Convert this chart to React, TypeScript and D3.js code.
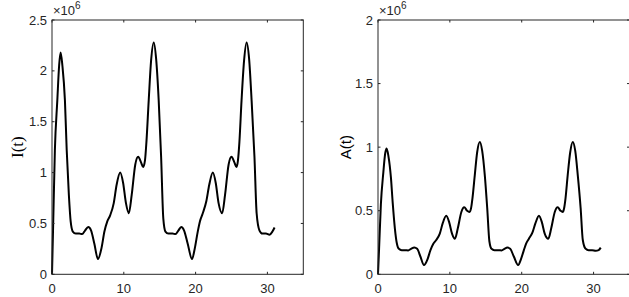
import React from "react";
import * as d3 from "d3";

const tI = [0, 0.15, 0.4, 0.74, 1.0, 1.2, 1.45, 1.8, 2.05, 2.35, 2.6, 2.9, 3.3, 3.8, 4.2, 4.6, 5.05, 5.45, 5.9, 6.4, 6.9, 7.3, 7.7, 8.1, 8.6, 9.0, 9.5, 9.9, 10.3, 10.7, 11.1, 11.6, 12.0, 12.4, 12.7, 12.95, 13.15, 13.47, 13.8, 14.17, 14.5, 14.86, 15.2, 15.5, 15.8, 16.2, 16.8, 17.2, 17.6, 18.0, 18.4, 18.9, 19.5, 19.9, 20.3, 20.6, 21.0, 21.5, 21.9, 22.4, 22.8, 23.2, 23.7, 24.1, 24.6, 25.0, 25.4, 25.7, 25.9, 26.1, 26.4, 26.75, 27.1, 27.45, 27.8, 28.2, 28.5, 28.9, 29.3, 29.8, 30.3, 30.7, 31.0];

const iValues = [0, 0.45, 1.22, 1.71, 2.06, 2.18, 2.05, 1.71, 1.22, 0.78, 0.52, 0.42, 0.40, 0.40, 0.395, 0.43, 0.465, 0.43, 0.30, 0.15, 0.26, 0.42, 0.52, 0.58, 0.70, 0.88, 1.0, 0.90, 0.70, 0.60, 0.78, 1.08, 1.155, 1.10, 1.055, 1.12, 1.30, 1.71, 2.10, 2.28, 2.12, 1.71, 1.15, 0.55, 0.42, 0.40, 0.40, 0.395, 0.43, 0.465, 0.43, 0.30, 0.15, 0.26, 0.42, 0.52, 0.60, 0.72, 0.88, 1.0, 0.90, 0.70, 0.60, 0.78, 1.08, 1.155, 1.10, 1.055, 1.12, 1.30, 1.71, 2.10, 2.28, 2.12, 1.71, 1.15, 0.60, 0.43, 0.40, 0.40, 0.39, 0.42, 0.46];

const aValues = [0, 0.2, 0.55, 0.8, 0.95, 0.99, 0.93, 0.76, 0.56, 0.36, 0.25, 0.2, 0.19, 0.19, 0.188, 0.2, 0.21, 0.2, 0.14, 0.073, 0.12, 0.19, 0.24, 0.27, 0.32, 0.40, 0.46, 0.41, 0.32, 0.28, 0.36, 0.49, 0.527, 0.5, 0.49, 0.52, 0.6, 0.78, 0.96, 1.04, 0.97, 0.78, 0.52, 0.26, 0.2, 0.19, 0.19, 0.188, 0.2, 0.21, 0.2, 0.14, 0.073, 0.12, 0.19, 0.24, 0.28, 0.33, 0.40, 0.46, 0.41, 0.32, 0.28, 0.36, 0.49, 0.527, 0.5, 0.49, 0.52, 0.6, 0.78, 0.96, 1.04, 0.97, 0.78, 0.52, 0.27, 0.2, 0.19, 0.19, 0.185, 0.19, 0.21];

const xTicks = [0, 10, 20, 30];
const iTicks = [0, 0.5, 1, 1.5, 2, 2.5];
const aTicks = [0, 0.5, 1, 1.5, 2];

const AX = "#262626";
const SANS = "'Liberation Sans', Arial, sans-serif";
const SERIF = "'Liberation Serif', 'Times New Roman', serif";

type PanelProps = {
  x0: number; x1: number; y0: number; y1: number;
  yMax: number; yTicks: number[]; values: number[]; label: string; labelFont: string; labelX: number; labelSize: number;
};

function Panel({ x0, x1, y0, y1, yMax, yTicks, values, label, labelFont, labelX, labelSize }: PanelProps) {
  const x = d3.scaleLinear().domain([0, 35]).range([x0, x1]);
  const y = d3.scaleLinear().domain([0, yMax]).range([y1, y0]);
  const line = d3.line<number>().x((_, i) => x(tI[i])).y((d) => y(d)).curve(d3.curveMonotoneX);
  const tl = 2.5;
  return (
    <g>
      <path d={line(values) || ""} fill="none" stroke="#000" strokeWidth={2} strokeLinejoin="round" />
      <rect x={x0} y={y0} width={x1 - x0} height={y1 - y0} fill="none" stroke={AX} strokeWidth={1} />
      {xTicks.map((t) => (
        <g key={"x" + t}>
          <line x1={x(t)} x2={x(t)} y1={y1} y2={y1 - tl} stroke={AX} />
          <line x1={x(t)} x2={x(t)} y1={y0} y2={y0 + tl} stroke={AX} />
          <text x={x(t)} y={y1 + 19} textAnchor="middle" fontFamily={SANS} fontSize={13} fill="#262626">{t}</text>
        </g>
      ))}
      {yTicks.map((t) => (
        <g key={"y" + t}>
          <line x1={x0} x2={x0 + tl} y1={y(t)} y2={y(t)} stroke={AX} />
          <line x1={x1} x2={x1 - tl} y1={y(t)} y2={y(t)} stroke={AX} />
          <text x={x0 - 5} y={y(t) + 4.6} textAnchor="end" fontFamily={SANS} fontSize={13} fill="#262626">{t}</text>
        </g>
      ))}
      <text x={x0 + 1} y={y0 - 5} fontFamily={SANS} fontSize={13} fill="#262626">
        ×10<tspan dy={-6} fontSize={10}>6</tspan>
      </text>
      <text transform={`translate(${labelX},${(y0 + y1) / 2}) rotate(-90)`} textAnchor="middle" fontFamily={labelFont} fontSize={labelSize} fill="#000">{label}</text>
    </g>
  );
}

export default function App() {
  return (
    <svg width={629} height={297} style={{ position: "absolute", left: 0, top: 0, background: "#fff" }}>
      <rect width={629} height={297} fill="#fff" />
      <Panel x0={52} x1={303.3} y0={20} y1={274.3} yMax={2.5} yTicks={iTicks} values={iValues} label="I(t)" labelFont={SERIF} labelX={23} labelSize={17} />
      <Panel x0={378} x1={629.5} y0={20} y1={274.3} yMax={2} yTicks={aTicks} values={aValues} label="A(t)" labelFont={SANS} labelX={351} labelSize={15} />
    </svg>
  );
}
